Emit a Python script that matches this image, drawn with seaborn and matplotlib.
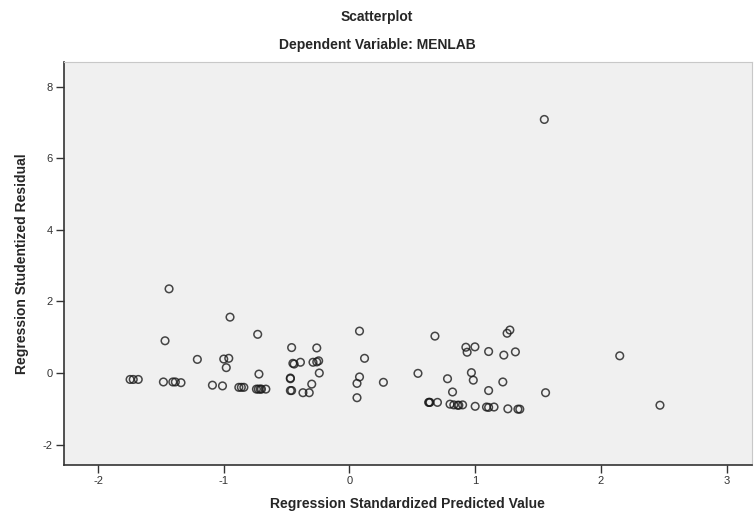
import pandas as pd
import numpy as np
import matplotlib
matplotlib.use('Agg')
import matplotlib.pyplot as plt
import seaborn as sns

# === Data ===
pred = [-1.745, -1.72, -1.68,
        -1.48, -1.405, -1.385, -1.34,
        -1.09, -1.01,
        -1.467, -1.435, -1.21,
        -1.00, -0.96, -0.98, -0.95,
        -0.73, -0.72,
        -0.88, -0.86, -0.84,
        -0.74, -0.725, -0.71, -0.70, -0.665,
        -0.46, -0.45, -0.44, -0.39,
        -0.47, -0.47, -0.47, -0.46,
        -0.37, -0.32, -0.30,
        -0.29, -0.26, -0.245, -0.26, -0.24,
        0.08, 0.12, 0.08, 0.06, 0.27, 0.06,
        0.545, 0.68,
        0.63, 0.635, 0.64, 0.70,
        0.78, 0.82,
        0.80, 0.83, 0.86, 0.87, 0.90,
        0.926, 0.998, 0.936,
        0.97, 0.985, 1.00,
        1.09, 1.107, 1.15,
        1.107, 1.107, 1.22, 1.228,
        1.276, 1.254, 1.32,
        1.26, 1.34, 1.355,
        1.56, 1.55, 2.15, 2.47]

resid = [-0.18, -0.18, -0.18,
         -0.25, -0.25, -0.25, -0.27,
         -0.34, -0.36,
         0.90, 2.35, 0.38,
         0.39, 0.41, 0.15, 1.56,
         1.08, -0.03,
         -0.40, -0.40, -0.40,
         -0.45, -0.45, -0.45, -0.45, -0.45,
         0.71, 0.27, 0.25, 0.30,
         -0.14, -0.16, -0.49, -0.49,
         -0.55, -0.55, -0.31,
         0.30, 0.31, 0.34, 0.70, 0.00,
         1.17, 0.41, -0.11, -0.29, -0.26, -0.69,
         -0.01, 1.03,
         -0.82, -0.82, -0.82, -0.82,
         -0.16, -0.53,
         -0.87, -0.89, -0.90, -0.90, -0.89,
         0.72, 0.73, 0.58,
         0.01, -0.20, -0.93,
         -0.95, -0.96, -0.95,
         0.60, -0.49, -0.25, 0.50,
         1.20, 1.11, 0.59,
         -1.00, -1.01, -1.01,
         -0.55, 7.08, 0.48, -0.90]

x_ticks = [-2, -1, 0, 1, 2, 3]
y_ticks = [-2, 0, 2, 4, 6, 8]

df = pd.DataFrame({'pred': pred, 'resid': resid})

# === Style ===
sns.set_style('white')
plt.rcParams['font.family'] = ['Liberation Sans', 'DejaVu Sans']
plt.rcParams['axes.unicode_minus'] = False

fig = plt.figure(figsize=(7.54, 5.15), dpi=100)
ax = fig.add_axes([0.085, 0.097, 0.912, 0.783])
ax.set_facecolor('#F0F0F0')

sns.scatterplot(data=df, x='pred', y='resid', ax=ax, marker='o', s=30,
                facecolor='none', edgecolor='#1a1a1a', linewidth=1.1,
                alpha=0.8, legend=False)

ax.set_xlim(-2.27, 3.2)
ax.set_ylim(-2.57, 8.69)
ax.set_xticks(x_ticks)
ax.set_yticks(y_ticks)
ax.tick_params(axis='both', direction='out', length=6, width=1.0,
               color='#333333', labelsize=8, labelcolor='#333333',
               left=True, bottom=True, pad=2)

for side in ['left', 'bottom']:
    ax.spines[side].set_color('#333333')
    ax.spines[side].set_linewidth(1.2)
for side in ['top', 'right']:
    ax.spines[side].set_color('#c8c8c8')
    ax.spines[side].set_linewidth(0.8)

ax.set_xlabel('Regression Standardized Predicted Value', fontsize=10,
              fontweight='bold', labelpad=8)
ax.set_ylabel('Regression Studentized Residual', fontsize=10,
              fontweight='bold', labelpad=10)

fig.text(0.5, 0.967, 'Scatterplot', ha='center', va='center',
         fontsize=10, fontweight='bold')
fig.text(0.5, 0.912, 'Dependent Variable: MENLAB', ha='center', va='center',
         fontsize=10, fontweight='bold')

fig.savefig('out.png', dpi=100, facecolor='white')
